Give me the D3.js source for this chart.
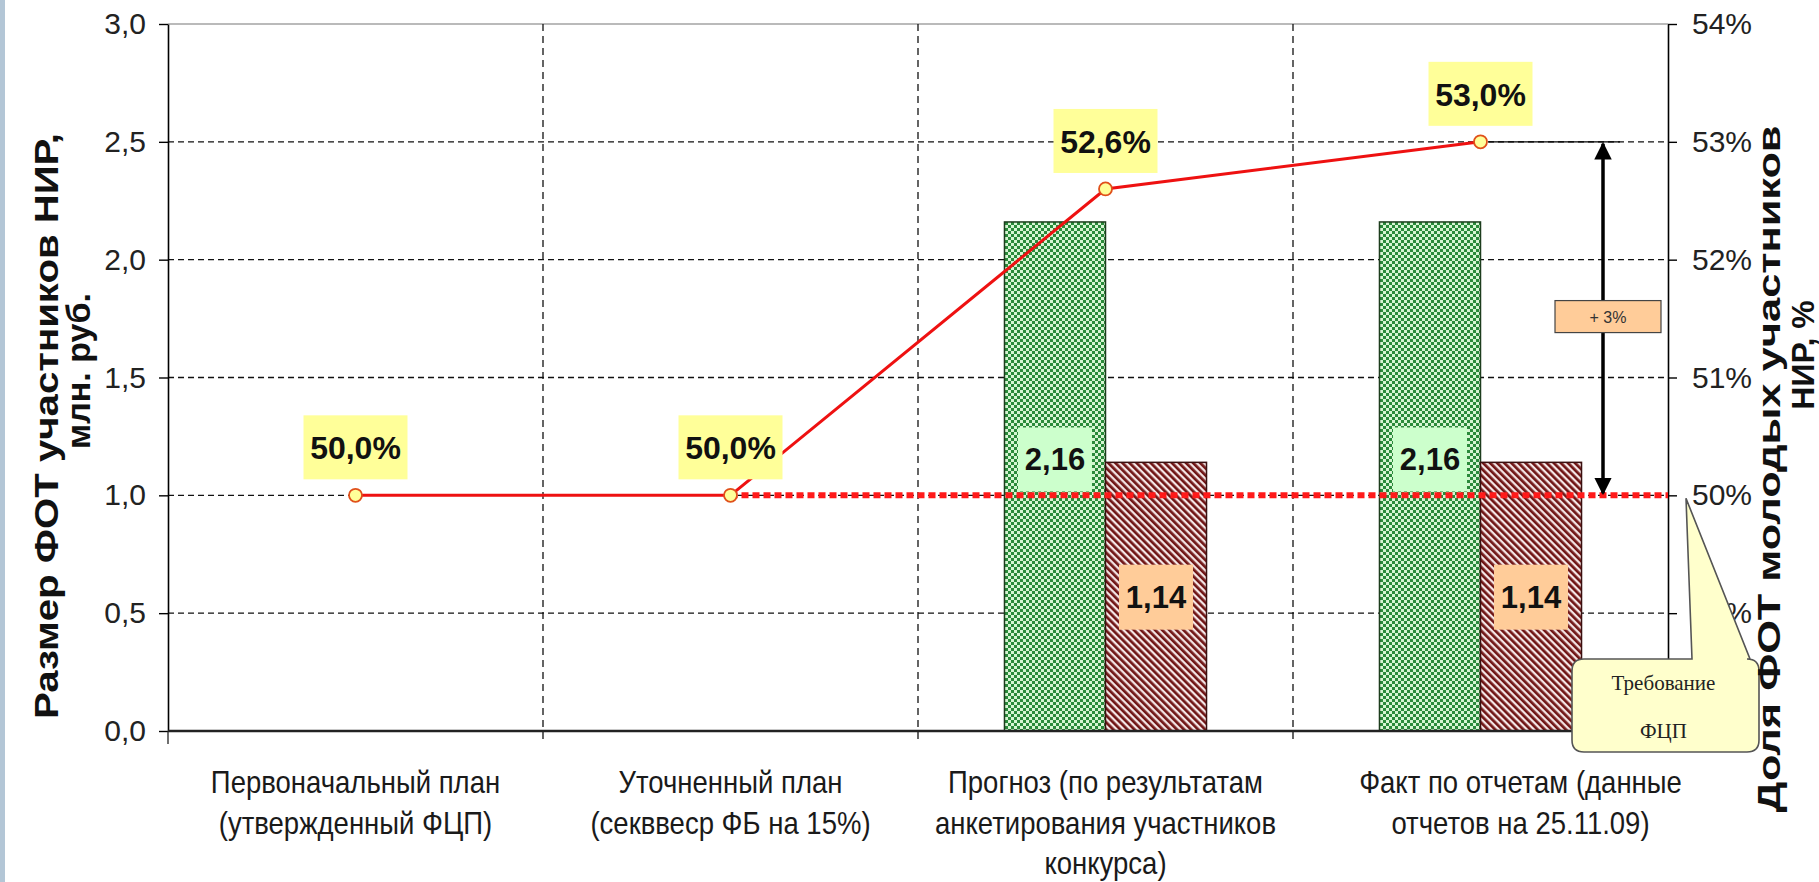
<!DOCTYPE html>
<html><head><meta charset="utf-8">
<script src="https://cdn.jsdelivr.net/npm/d3@7"></script>
<style>
html,body{margin:0;padding:0;background:#fff;}
svg{display:block;}
</style></head>
<body>
<svg id="chart" width="1819" height="882"></svg>
<script>
// ---------- data ----------
const categories = [
  ["Первоначальный план", "(утвержденный ФЦП)"],
  ["Уточненный план", "(секввеср ФБ на 15%)"],
  ["Прогноз (по результатам", "анкетирования участников", "конкурса)"],
  ["Факт по отчетам (данные", "отчетов на 25.11.09)"]
];
const fotTotal = [null, null, 2.16, 2.16];   // green bars, млн. руб.
const fotYoung = [null, null, 1.14, 1.14];   // red bars, млн. руб.
const youngShare = [50.0, 50.0, 52.6, 53.0]; // line, %
const requirement = 50;                      // ФЦП requirement, %
const leftTicks = [0, 0.5, 1.0, 1.5, 2.0, 2.5, 3.0];
const rightTicks = [48, 49, 50, 51, 52, 53, 54];
const leftTitle = ["Размер ФОТ участников НИР,", "млн. руб."];
const rightTitle = ["Доля ФОТ молодых участников", "НИР, %"];
const calloutText = ["Требование", "ФЦП"];
const deltaText = "+ 3%";

// ---------- setup ----------
const SANS = "'Liberation Sans',Arial,sans-serif";
const SERIF = "'Liberation Serif','Times New Roman',serif";
const svg = d3.select("#chart");
const L = 168, R = 1668, T = 24, B = 731;
const idx = categories.map((d, i) => i);
const x = d3.scaleBand().domain(idx).range([L, R]);
const bw = x.bandwidth();
const x1 = d3.scaleBand().domain(["total", "young"]).range([0, bw]).paddingOuter(0.856);
const yL = d3.scaleLinear().domain([0, 3]).range([B, T]);
const yR = d3.scaleLinear().domain([48, 54]).range([B, T]);
const cx = i => x(i) + bw / 2;
const fmtL = d => d.toFixed(1).replace(".", ",");
const fmtP = d => d.toFixed(1).replace(".", ",") + "%";
const fmtV = d => d.toFixed(2).replace(".", ",");
const txt = (sel, size, weight, fam) => sel.style("font-family", fam || SANS).style("font-size", size + "px")
  .style("font-weight", weight || "normal");

// left border strip
svg.append("rect").attr("x", 0).attr("y", 0).attr("width", 5).attr("height", 882).attr("fill", "#b3c6d6");

// patterns
const defs = svg.append("defs");
const pg = defs.append("pattern").attr("id", "checker").attr("patternUnits", "userSpaceOnUse")
  .attr("width", 6).attr("height", 6);
pg.append("rect").attr("width", 6).attr("height", 6).attr("fill", "#2a8a3a");
pg.append("rect").attr("width", 3).attr("height", 3).attr("fill", "#d6f5d2");
pg.append("rect").attr("x", 3).attr("y", 3).attr("width", 3).attr("height", 3).attr("fill", "#d6f5d2");
const pr = defs.append("pattern").attr("id", "stripes").attr("patternUnits", "userSpaceOnUse")
  .attr("width", 5).attr("height", 5).attr("patternTransform", "rotate(-45)");
pr.append("rect").attr("width", 5).attr("height", 5).attr("fill", "#f4e6e6");
pr.append("rect").attr("width", 2.7).attr("height", 5).attr("fill", "#701515");
const ah = defs.append("marker").attr("id", "arrow").attr("viewBox", "0 0 10 10").attr("refX", 9).attr("refY", 5)
  .attr("markerWidth", 5).attr("markerHeight", 6).attr("orient", "auto-start-reverse").attr("markerUnits", "strokeWidth");
ah.append("path").attr("d", "M0,0 L10,5 L0,10 Z").attr("fill", "#000");

// top border
svg.append("line").attr("x1", L).attr("x2", R).attr("y1", T).attr("y2", T).attr("stroke", "#777").attr("stroke-width", 1.2);

// horizontal grid
svg.append("g").selectAll("line").data(leftTicks.filter(d => d > 0 && d < 3)).join("line")
  .attr("x1", L).attr("x2", R).attr("y1", d => yL(d)).attr("y2", d => yL(d))
  .attr("stroke", "#111").attr("stroke-width", 1.3).attr("stroke-dasharray", "6,4");

// vertical grid at category boundaries
const bounds = idx.slice(1).map(i => x(i));
svg.append("g").selectAll("line").data(bounds).join("line")
  .attr("x1", d => d).attr("x2", d => d).attr("y1", T).attr("y2", B + 13)
  .attr("stroke", "#111").attr("stroke-width", 1.3).attr("stroke-dasharray", "7,5");

// bars
const bars = svg.append("g");
idx.forEach(i => {
  if (fotTotal[i] != null) {
    bars.append("rect").attr("x", x(i) + x1("total")).attr("width", x1.bandwidth())
      .attr("y", yL(fotTotal[i])).attr("height", yL(0) - yL(fotTotal[i]))
      .attr("fill", "url(#checker)").attr("stroke", "#1d3d1d").attr("stroke-width", 1.5);
  }
  if (fotYoung[i] != null) {
    bars.append("rect").attr("x", x(i) + x1("young")).attr("width", x1.bandwidth())
      .attr("y", yL(fotYoung[i])).attr("height", yL(0) - yL(fotYoung[i]))
      .attr("fill", "url(#stripes)").attr("stroke", "#3a1010").attr("stroke-width", 1.5);
  }
});

// axes
const axL = svg.append("g").attr("transform", `translate(${L},0)`)
  .call(d3.axisLeft(yL).tickValues(leftTicks).tickFormat(fmtL).tickSize(9).tickSizeOuter(0));
const axR = svg.append("g").attr("transform", `translate(${R},0)`)
  .call(d3.axisRight(yR).tickValues(rightTicks).tickFormat(d => d + "%").tickSize(9).tickSizeOuter(0));
[axL, axR].forEach(a => {
  a.select(".domain").attr("stroke", "#000").attr("stroke-width", 1.6);
  a.selectAll(".tick line").attr("stroke", "#000").attr("stroke-width", 1.4);
  txt(a.selectAll(".tick text"), 30).attr("fill", "#222");
});
axL.selectAll(".tick text").attr("x", -22);
axR.selectAll(".tick text").attr("x", 24);

// x axis line + left tick
svg.append("line").attr("x1", L).attr("x2", R).attr("y1", B).attr("y2", B).attr("stroke", "#222").attr("stroke-width", 2.4);
svg.append("line").attr("x1", L).attr("x2", L).attr("y1", B).attr("y2", B + 13).attr("stroke", "#222").attr("stroke-width", 1.3);

// category labels
const catG = svg.append("g");
idx.forEach(i => {
  const shift = i === 3 ? 40 : 0;
  categories[i].forEach((t, j) => {
    txt(catG.append("text").attr("transform", `translate(${cx(i) + shift},${793 + j * 40.5}) scale(0.86,1)`)
      .attr("text-anchor", "middle").attr("fill", "#1a1a1a").text(t), 32);
  });
});

// requirement dotted line (from second point to right axis)
svg.append("line").attr("x1", cx(1)).attr("x2", R).attr("y1", yR(requirement)).attr("y2", yR(requirement))
  .attr("stroke", "#ff1a1a").attr("stroke-width", 6).attr("stroke-dasharray", "7,4");

// share line
const line = d3.line().x((d, i) => cx(i)).y(d => yR(d));
svg.append("path").datum(youngShare).attr("d", line).attr("fill", "none")
  .attr("stroke", "#ee1111").attr("stroke-width", 3);

// bar value labels
idx.forEach(i => {
  if (fotTotal[i] != null) {
    const bx = x(i) + x1("total") + x1.bandwidth() / 2;
    const by = yL(fotTotal[i] / 2) - 17;
    svg.append("rect").attr("x", bx - 37).attr("y", by - 32).attr("width", 74).attr("height", 64).attr("fill", "#ccffcc");
    txt(svg.append("text").attr("x", bx).attr("y", by + 11).attr("text-anchor", "middle")
      .attr("fill", "#111").text(fmtV(fotTotal[i])), 31, "bold");
  }
  if (fotYoung[i] != null) {
    const bx = x(i) + x1("young") + x1.bandwidth() / 2;
    const by = yL(fotYoung[i] / 2);
    svg.append("rect").attr("x", bx - 37).attr("y", by - 32).attr("width", 74).attr("height", 65).attr("fill", "#ffcc99");
    txt(svg.append("text").attr("x", bx).attr("y", by + 11).attr("text-anchor", "middle")
      .attr("fill", "#111").text(fmtV(fotYoung[i])), 31, "bold");
  }
});

// delta annotation (+3%)
const lastI = idx.length - 1;
const arrowX = 1603;
svg.append("line").attr("x1", cx(lastI) + 8).attr("x2", 1620).attr("y1", yR(youngShare[lastI])).attr("y2", yR(youngShare[lastI]))
  .attr("stroke", "#000").attr("stroke-width", 1.2);
svg.append("line").attr("x1", arrowX).attr("x2", arrowX)
  .attr("y1", yR(youngShare[lastI]) + 2).attr("y2", yR(requirement) - 2)
  .attr("stroke", "#000").attr("stroke-width", 3.5)
  .attr("marker-start", "url(#arrow)").attr("marker-end", "url(#arrow)");
const dy = (yR(youngShare[lastI]) + yR(requirement)) / 2 - 2;
svg.append("rect").attr("x", 1555).attr("y", dy - 16).attr("width", 106).attr("height", 32)
  .attr("fill", "#ffcc99").attr("stroke", "#444").attr("stroke-width", 1.2);
txt(svg.append("text").attr("x", 1608).attr("y", dy + 6).attr("text-anchor", "middle")
  .attr("fill", "#333").text(deltaText), 16);

// points
svg.append("g").selectAll("circle").data(youngShare).join("circle")
  .attr("cx", (d, i) => cx(i)).attr("cy", d => yR(d)).attr("r", 6.5)
  .attr("fill", "#ffff99").attr("stroke", "#e0501a").attr("stroke-width", 1.8);

// percent labels
youngShare.forEach((v, i) => {
  const px = cx(i), py = yR(v);
  svg.append("rect").attr("x", px - 52).attr("y", py - 80).attr("width", 104).attr("height", 64).attr("fill", "#ffff99");
  txt(svg.append("text").attr("x", px).attr("y", py - 36).attr("text-anchor", "middle")
    .attr("fill", "#111").text(fmtP(v)), 32, "bold");
});

// callout "Требование ФЦП"
const tipX = R + 18, tipY = yR(requirement) + 3;
const bx0 = 1572, bx1 = 1759, by0 = 659, by1 = 752, rr = 12;
const cp = d3.path();
cp.moveTo(bx0 + rr, by0);
cp.lineTo(1692, by0);
cp.lineTo(tipX, tipY);
cp.lineTo(1750, by0);
cp.lineTo(bx1 - rr, by0);
cp.quadraticCurveTo(bx1, by0, bx1, by0 + rr);
cp.lineTo(bx1, by1 - rr);
cp.quadraticCurveTo(bx1, by1, bx1 - rr, by1);
cp.lineTo(bx0 + rr, by1);
cp.quadraticCurveTo(bx0, by1, bx0, by1 - rr);
cp.lineTo(bx0, by0 + rr);
cp.quadraticCurveTo(bx0, by0, bx0 + rr, by0);
cp.closePath();
svg.append("path").attr("d", cp.toString()).attr("fill", "#ffffcc").attr("stroke", "#555").attr("stroke-width", 1.6);
calloutText.forEach((t, j) => {
  txt(svg.append("text").attr("x", (bx0 + bx1) / 2 - 2).attr("y", 690 + j * 48).attr("text-anchor", "middle")
    .attr("fill", "#222").text(t), 21, "normal", SERIF);
});

// axis titles
txt(svg.append("text").attr("transform", "translate(58,426) rotate(-90)").attr("text-anchor", "middle")
  .attr("fill", "#111").attr("textLength", 586).attr("lengthAdjust", "spacingAndGlyphs").text(leftTitle[0]), 34, "bold");
txt(svg.append("text").attr("transform", "translate(90,371) rotate(-90)").attr("text-anchor", "middle")
  .attr("fill", "#111").text(leftTitle[1]), 34, "bold");
txt(svg.append("text").attr("transform", "translate(1780,469) rotate(-90)").attr("text-anchor", "middle")
  .attr("fill", "#111").attr("textLength", 687).attr("lengthAdjust", "spacingAndGlyphs").text(rightTitle[0]), 32, "bold");
txt(svg.append("text").attr("transform", "translate(1814,355) rotate(-90)").attr("text-anchor", "middle")
  .attr("fill", "#111").text(rightTitle[1]), 32, "bold");
</script>
</body></html>
